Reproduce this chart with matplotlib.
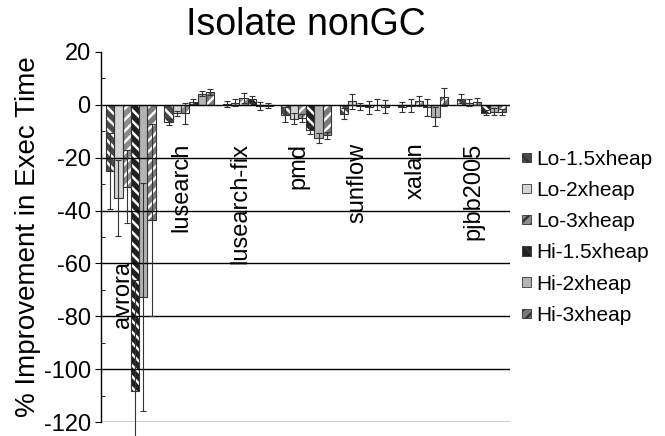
import numpy as np
import matplotlib
matplotlib.use('Agg')
import matplotlib.pyplot as plt
from matplotlib.patches import Patch

plt.rcParams['font.family'] = ['Liberation Sans', 'DejaVu Sans']
plt.rcParams['axes.unicode_minus'] = False
plt.rcParams['hatch.linewidth'] = 1.8

benchmarks = ['avrora', 'lusearch', 'lusearch-fix', 'pmd', 'sunflow', 'xalan', 'pjbb2005']
configs = ['Lo-1.5xheap', 'Lo-2xheap', 'Lo-3xheap', 'Hi-1.5xheap', 'Hi-2xheap', 'Hi-3xheap']

# % improvement per config, one entry per benchmark
lo_15 = [-24.9, -6.5, 0.3, -3.7, -3.4, -0.8, 2.3]
lo_2 = [-35.3, -3.3, 0.8, -5.3, 1.3, -0.3, 0.8]
lo_3 = [-31.0, -3.2, 2.5, -5.0, -0.5, 1.4, 1.2]
hi_15 = [-108.4, 1.2, 2.0, -9.4, -1.0, -1.0, -3.0]
hi_2 = [-72.7, 4.2, -0.5, -12.5, 0.0, -4.6, -2.6]
hi_3 = [-43.6, 4.8, -0.3, -11.6, -0.8, 3.0, -2.8]

lo_15_err = [14.4, 1.0, 1.0, 2.7, 2.0, 1.8, 1.6]
lo_2_err = [14.5, 1.0, 1.2, 2.0, 2.8, 2.5, 1.2]
lo_3_err = [13.8, 4.0, 2.0, 1.5, 1.3, 2.0, 1.4]
hi_15_err = [42.0, 0.8, 1.5, 1.5, 2.5, 3.2, 1.0]
hi_2_err = [43.0, 1.0, 1.6, 2.0, 2.0, 3.6, 1.4]
hi_3_err = [36.4, 1.0, 0.8, 1.2, 2.5, 3.5, 1.2]

series = [lo_15, lo_2, lo_3, hi_15, hi_2, hi_3]
errors = [lo_15_err, lo_2_err, lo_3_err, hi_15_err, hi_2_err, hi_3_err]

# face colour, hatch
styles = [('#4a4a4a', '\\\\\\'), ('#d4d4d4', None), ('#8c8c8c', '///'),
          ('#202020', '\\\\\\'), ('#b4b4b4', None), ('#7a7a7a', '///')]

fig = plt.figure(figsize=(6.65, 4.36), dpi=100)
ax = fig.add_axes([0.152, 0.032, 0.615, 0.849])

x = np.arange(len(benchmarks)) + 0.51
width = 0.142
for j, (vals, errs) in enumerate(zip(series, errors)):
    face, hatch = styles[j]
    pos = x + (j - 2.5) * width
    ax.bar(pos, vals, width, color=face, hatch=hatch, edgecolor='white',
           linewidth=0, zorder=2)
    ax.bar(pos, vals, width, fill=False, edgecolor='#333333', linewidth=0.8,
           zorder=2.5)
    eb = ax.errorbar(pos, vals, yerr=errs, fmt='none', ecolor='#333333',
                     elinewidth=0.8, capsize=2.2, capthick=0.8, zorder=4)
    for child in eb.get_children():
        child.set_clip_on(False)

for yv in range(0, -121, -20):
    ax.axhline(yv, color='black', linewidth=1.0, zorder=3)

for i, name in enumerate(benchmarks):
    top = -59 if name == 'avrora' else -14.3
    ax.text(i + 0.38, top, name, rotation=90, ha='center', va='top',
            fontsize=17, zorder=5)

ax.set_xlim(0, len(benchmarks))
ax.set_ylim(-120, 20)
ax.set_xticks([])
ax.set_yticks(range(20, -121, -20))
ax.set_yticks(range(10, -120, -20), minor=True)
ax.tick_params(axis='y', which='major', direction='out', length=4, labelsize=17)
ax.tick_params(axis='y', which='minor', direction='in', length=3)
for side in ['top', 'right', 'bottom']:
    ax.spines[side].set_visible(False)
ax.spines['left'].set_linewidth(1.0)

ax.set_ylabel('% Improvement in Exec Time', fontsize=20, labelpad=2)
ax.set_title('Isolate nonGC', fontsize=27, pad=12)

handles = [Patch(facecolor=f, hatch=h, edgecolor='#333333', linewidth=0.6)
           for f, h in styles]
ax.legend(handles, configs, loc='upper left', bbox_to_anchor=(1.01, 0.757),
          frameon=False, fontsize=15, handlelength=0.4, handleheight=0.3,
          handletextpad=0.25, labelspacing=0.58, borderaxespad=0)

fig.savefig('out.png', dpi=100)
